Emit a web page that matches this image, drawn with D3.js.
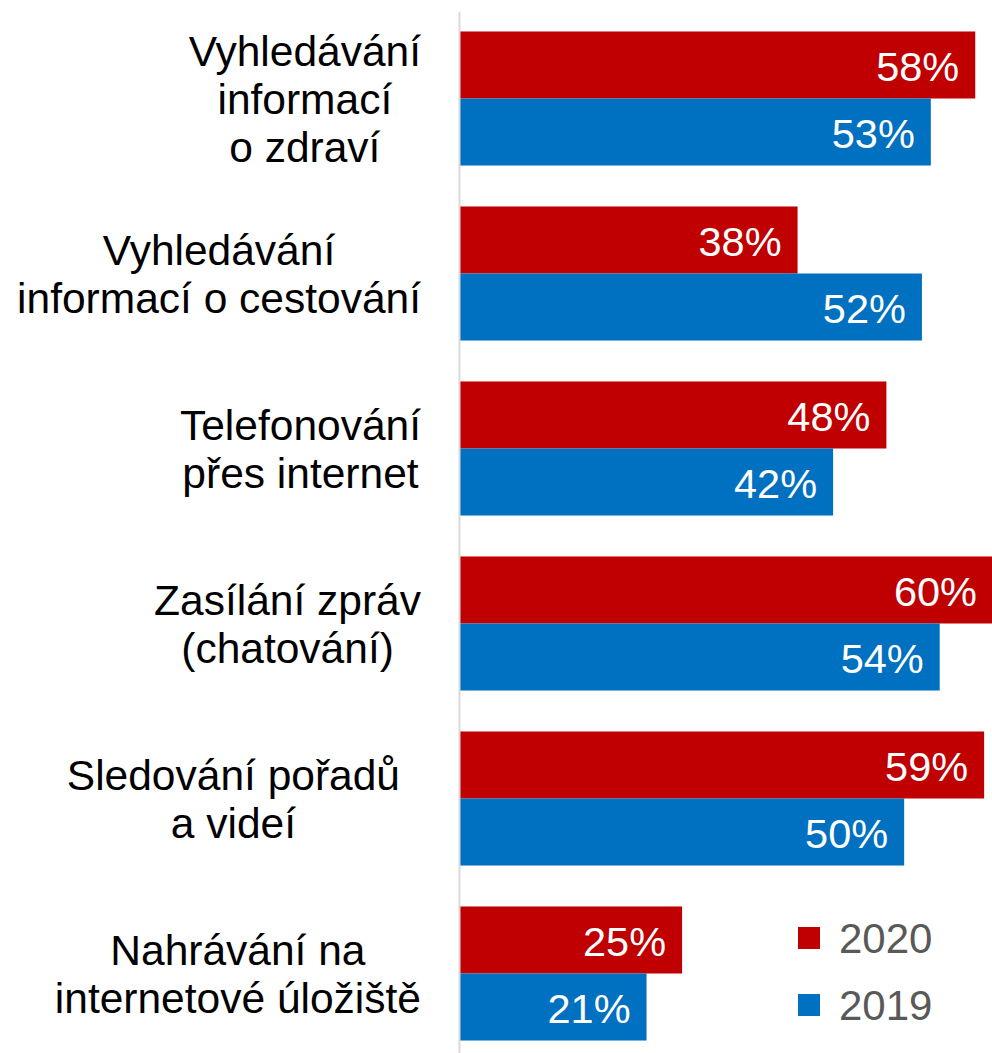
<!DOCTYPE html>
<html>
<head>
<meta charset="utf-8">
<script src="https://cdn.jsdelivr.net/npm/d3@7"></script>
<style>
  body { margin: 0; background: #fff; }
  svg { display: block; font-family: "Liberation Sans", Arial, sans-serif; }
</style>
</head>
<body>
<div id="chart"></div>
<script>
// data
const categories = [
  ["Vyhledávání", "informací", "o zdraví"],
  ["Vyhledávání", "informací o cestování"],
  ["Telefonování", "přes internet"],
  ["Zasílání zpráv", "(chatování)"],
  ["Sledování pořadů", "a videí"],
  ["Nahrávání na", "internetové úložiště"]
]
const years = ["2020", "2019"]
const values2020 = [58, 38, 48, 60, 59, 25]
const values2019 = [53, 52, 42, 54, 50, 21]
const colors = {"2020": "#c00000", "2019": "#0070c0"}

const width = 992, height = 1053
const x0 = 460
const fontSize = 42.5
const valueSize = 41.5

const svg = d3.select("#chart").append("svg")
  .attr("width", width)
  .attr("height", height)

const x = d3.scaleLinear().domain([0, 60]).range([x0, 993])
const y = d3.scaleBand()
  .domain(d3.range(categories.length))
  .range([11, 1061])
  .paddingInner(0.234)
  .paddingOuter(0.117)
const ySub = d3.scaleBand().domain(years).range([0, y.bandwidth()])

const rows = []
categories.forEach((c, i) => {
  rows.push({i: i, year: "2020", v: values2020[i]})
  rows.push({i: i, year: "2019", v: values2019[i]})
})

// bars
svg.append("g").selectAll("rect")
  .data(rows)
  .join("rect")
  .attr("x", x0)
  .attr("y", d => y(d.i) + ySub(d.year))
  .attr("width", d => x(d.v) - x0)
  .attr("height", ySub.bandwidth())
  .style("fill", d => colors[d.year])

// value labels
svg.append("g").selectAll("text")
  .data(rows)
  .join("text")
  .attr("x", d => x(d.v) - 16)
  .attr("y", d => y(d.i) + ySub(d.year) + ySub.bandwidth() / 2 + 1.5)
  .attr("dy", "0.36em")
  .style("text-anchor", "end")
  .style("font-size", valueSize + "px")
  .style("fill", "#fff")
  .text(d => d.v + "%")

// axis line
svg.append("line")
  .attr("x1", x0 - 0.5).attr("x2", x0 - 0.5)
  .attr("y1", 12).attr("y2", height)
  .style("stroke", "#d9d9d9")
  .style("stroke-width", 2)

// category labels: block right-aligned, lines centred
// (the 5th label sits a bit further left in the original, trailing space)
const lineH = 48
const labelRight = [421, 421, 421, 421, 400, 421]
const lab = svg.append("g")
categories.forEach((lines, i) => {
  const g = lab.append("g")
  const t = g.selectAll("text")
    .data(lines)
    .join("text")
    .style("font-size", fontSize + "px")
    .style("fill", "#000")
    .style("text-anchor", "middle")
    .text(d => d)
  const maxW = d3.max(t.nodes(), n => n.getComputedTextLength())
  const cy = y(i) + y.bandwidth() / 2
  t.attr("x", labelRight[i] - maxW / 2)
    .attr("y", (d, j) => cy + (j - (lines.length - 1) / 2) * lineH)
    .attr("dy", "0.36em")
})

// legend
const legend = svg.append("g")
  .selectAll("g")
  .data(years)
  .join("g")
  .attr("transform", d => "translate(798," + (y(categories.length - 1) + ySub(d) + ySub.bandwidth() / 2 - 2) + ")")

legend.append("rect")
  .attr("x", 0).attr("y", -11)
  .attr("width", 22).attr("height", 22)
  .style("fill", d => colors[d])

legend.append("text")
  .attr("x", 41)
  .attr("dy", "0.36em")
  .style("font-size", "42px")
  .style("fill", "#595959")
  .text(d => d)
</script>
</body>
</html>
